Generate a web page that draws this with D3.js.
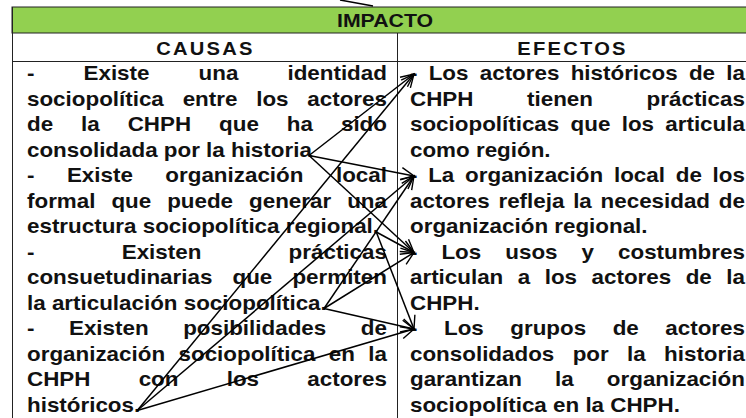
<!DOCTYPE html>
<html><head><meta charset="utf-8">
<script src="https://cdn.jsdelivr.net/npm/d3@7"></script>
<style>html,body{margin:0;padding:0;background:#fff;} svg{display:block;}</style>
</head><body>
<svg id="c" width="746" height="418"></svg>
<script>
// ---- data ----
const title = "IMPACTO";
const columnHeaders = ["CAUSAS", "EFECTOS"];
const causes = [
  ["- Existe una identidad", "sociopolítica entre los actores", "de la CHPH que ha sido", "consolidada por la historia"],
  ["- Existe organización local", "formal que puede generar una", "estructura sociopolítica regional."],
  ["- Existen prácticas", "consuetudinarias que permiten", "la articulación sociopolítica."],
  ["- Existen posibilidades de", "organización sociopolítica en la", "CHPH con los actores", "históricos."]
];
const effects = [
  ["- Los actores históricos de la", "CHPH tienen prácticas", "sociopolíticas que los articula", "como región."],
  ["- La organización local de los", "actores refleja la necesidad de", "organización regional."],
  ["- Los usos y costumbres", "articulan a los actores de la", "CHPH."],
  ["- Los grupos de actores", "consolidados por la historia", "garantizan la organización", "sociopolítica en la CHPH."]
];
// [cause index, effect index]
const links = [[0,0],[0,1],[0,2],[1,2],[1,3],[2,1],[2,2],[2,3],[3,0],[3,1],[3,3]];

// ---- layout ----
const svg = d3.select("#c");
const W = 746, H = 418;
const green = "#92D050";
const FONT = "'Liberation Sans', Arial, sans-serif";
const FS = 20;
const SX = 1.12; // horizontal stretch of the source lettering

const xCol = d3.scaleOrdinal().domain([0,1,2]).range([12, 397, 748]);
const yLine = d3.scaleLinear().domain([0, 13]).range([80, 411.5]);

// table background / borders
svg.append("rect").attr("x", xCol(0)).attr("y", 7).attr("width", xCol(2)-xCol(0)).attr("height", 26)
  .attr("fill", green).attr("stroke", "#222").attr("stroke-width", 1);
svg.append("line").attr("x1", xCol(0)).attr("x2", xCol(2)).attr("y1", 61.5).attr("y2", 61.5).attr("stroke", "#222");
svg.append("line").attr("x1", xCol(0)+0.5).attr("x2", xCol(0)+0.5).attr("y1", 7).attr("y2", H).attr("stroke", "#222");
svg.append("line").attr("x1", xCol(1)+0.5).attr("x2", xCol(1)+0.5).attr("y1", 33).attr("y2", H).attr("stroke", "#222");

svg.append("text").attr("transform", `translate(385,27) scale(${SX},1)`).attr("text-anchor", "middle")
  .attr("font-family", FONT).attr("font-weight", "bold").attr("font-size", 19).attr("fill", "#111").text(title);
svg.selectAll("text.hdr").data(columnHeaders).join("text").attr("class", "hdr")
  .attr("transform", (d,i) => `translate(${(xCol(i) + Math.min(xCol(i+1), W)) / 2 + 1},55) scale(${SX},1)`)
  .attr("text-anchor", "middle").attr("font-family", FONT).attr("font-weight", "bold")
  .attr("font-size", 18).attr("letter-spacing", 2).attr("fill", "#111").text(d => d);

// measuring helper (unscaled widths)
const meas = svg.append("text").attr("font-family", FONT).attr("font-weight", "bold").attr("font-size", FS).attr("visibility", "hidden");
function w(s){ meas.text(s); return meas.node().getComputedTextLength(); }

function drawColumn(paras, x0, x1) {
  const ends = [];
  const localW = (x1 - x0) / SX;
  let li = 0;
  const g = svg.append("g").attr("font-family", FONT).attr("font-weight", "bold").attr("font-size", FS).attr("fill", "#111");
  paras.forEach(p => {
    p.forEach((line, k) => {
      const y = yLine(li);
      const last = k === p.length - 1;
      const words = line.split(" ");
      const t = g.append("text").attr("transform", `translate(${x0},${y}) scale(${SX},1)`);
      if (last || words.length < 2) {
        t.attr("x", 0).text(line);
        if (last) ends.push({x: x0 + w(line) * SX, y: y});
      } else {
        const ws = words.map(w);
        const gap = (localW - d3.sum(ws)) / (words.length - 1);
        let cx = 0;
        words.forEach((wd, j) => {
          t.append("tspan").attr("x", cx).text(wd + (j < words.length-1 ? " " : ""));
          cx += ws[j] + gap;
        });
      }
      li++;
    });
  });
  return ends;
}

const causeEnds = drawColumn(causes, 27, 387);
drawColumn(effects, 410, 745);

// effect starting rows
const effStarts = [];
{ let li = 0; effects.forEach(p => { effStarts.push(yLine(li)); li += p.length; }); }

// arrows
const defs = svg.append("defs");
defs.append("marker").attr("id", "ah").attr("markerUnits", "userSpaceOnUse")
  .attr("markerWidth", 16).attr("markerHeight", 14).attr("refX", 13).attr("refY", 6)
  .attr("orient", "auto").attr("overflow", "visible")
  .append("path").attr("d", "M0,0 L13,6 L0,12").attr("fill", "none").attr("stroke", "#000").attr("stroke-width", 1.4);

svg.append("g").selectAll("line").data(links).join("line")
  .attr("x1", d => causeEnds[d[0]].x - 3).attr("y1", d => causeEnds[d[0]].y - 1)
  .attr("x2", 414).attr("y2", d => effStarts[d[1]] - 6)
  .attr("stroke", "#000").attr("stroke-width", 1.5).attr("marker-end", "url(#ah)");

// stray connector at top
svg.append("line").attr("x1", 340).attr("y1", 0).attr("x2", 373).attr("y2", 6).attr("stroke", "#000").attr("stroke-width", 1.5);
</script>
</body></html>
